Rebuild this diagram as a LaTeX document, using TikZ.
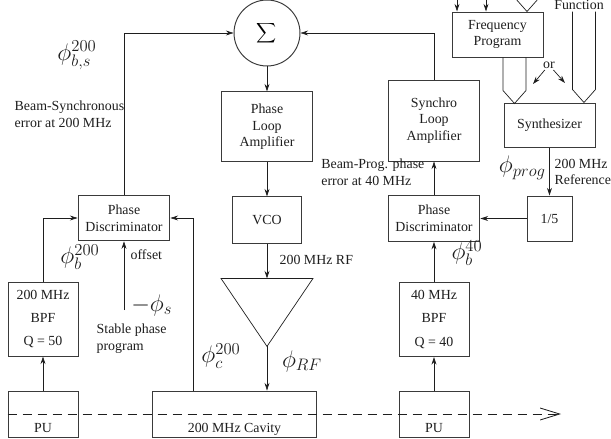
\documentclass[tikz,border=0pt]{standalone}
\usepackage{fontspec}
\setmainfont{Liberation Serif}
\usetikzlibrary{arrows.meta,positioning,calc}
\definecolor{Ink}{HTML}{1E1E1E}
\definecolor{Frame}{HTML}{3A3A3A}
\tikzset{
  block/.style={draw=Frame,line width=0.7pt,align=center,inner sep=2pt,
              minimum width=66.2pt,text=Ink},
  pubox/.style={block,minimum width=50.4pt,text height=26.7pt,text depth=0pt,
              inner ysep=3.2pt},
  flow/.style={-{Stealth[length=5.5pt,width=3.6pt]},line width=0.5pt,draw=Ink},
  wire/.style={line width=0.5pt,draw=Ink},
  beam/.style={-{Straight Barb[length=14pt,width=8.6pt]},dash pattern=on 6.5pt off 4.3pt,
              line width=0.6pt,draw=Ink},
  note/.style={align=left,text=Ink,inner sep=1pt},
  phase/.style={font=\LARGE,inner sep=0pt,text=Ink}
}

\begin{document}
\begin{tikzpicture}[x=0.72pt,y=-0.72pt]
  \clip (0,0) rectangle (611,439);
  % 200 MHz phase loop
  \node[draw=Frame,line width=0.7pt,circle,minimum size=47.5pt,inner sep=0pt] (sigma) at (267,33) {\large$\displaystyle\sum$};
  \node[block,minimum height=50.4pt,below=18pt of sigma] (loopamp) {Phase\\Loop\\Amplifier};
  \node[block,minimum width=49.7pt,minimum height=33.8pt,below=24.5pt of loopamp] (vco) {VCO};
  \coordinate[below=24.5pt of vco] (amp in);
  \coordinate (amp out) at ($(amp in)+(0,68)$);
  \draw[wire] (amp in) ++(-46,0) -- ++(92,0) -- (amp out) -- cycle;
  \node[block,minimum height=32.8pt] (pdL) at (124,218) {Phase\\Discriminator};
  \node[block,minimum width=50.4pt,minimum height=53.3pt] (bpfL) at (43,319) {200 MHz\\[4.6pt]BPF\\[4.6pt]Q = 50};
  % beam line
  \node[pubox] (puL) at (43,414) {PU};
  \node[pubox,minimum width=117.4pt] (cavity) at (234.5,414) {200 MHz Cavity};
  \node[pubox] (puR) at (434,414) {PU};
  % 40 MHz synchro loop
  \node[block,minimum width=50.4pt,minimum height=53.3pt] (bpfR) at (434,319.5) {40 MHz\\[4.6pt]BPF\\[4.6pt]Q = 40};
  \node[block,minimum height=32.8pt] (pdR) at (434,218.5) {Phase\\Discriminator};
  \node[block,minimum height=58.3pt] (synchro) at (434,120.5) {Synchro\\Loop\\Amplifier};
  \node[block,minimum width=32.4pt,minimum height=32.4pt] (div) at (549.5,218.5) {1/5};
  \node[block,minimum width=65.5pt,minimum height=31.7pt] (synth) at (549.5,125) {Synthesizer};
  \node[block,minimum width=65.5pt,minimum height=32.4pt] (freq) at (497.5,34.5) {Frequency\\Program};

  \coordinate (cavtap) at (193,391);
  \coordinate (stable) at (124,310);
  \coordinate (inA) at (457,-20);
  \coordinate (inB) at (486,-20);
  \coordinate (orL) at (533,84);
  \coordinate (orR) at (565,83);
  \coordinate (beamend) at (561,414);

  \draw[flow] (pdL) |- (sigma);
  \draw[flow] (synchro) |- (sigma);
  \draw[flow] (sigma) -- (loopamp);
  \draw[flow] (loopamp) -- (vco);
  \draw[flow] (vco) -- (amp in);
  \draw[flow] (amp out) -- (amp out |- cavity.north);
  \draw[flow] (cavtap) |- (pdL);
  \draw[flow] (bpfL) |- (pdL);
  \draw[flow] (puL) -- (bpfL);
  \draw[flow] (stable) -- (pdL);
  \draw[flow] (puR) -- (bpfR);
  \draw[flow] (bpfR) -- (pdR);
  \draw[flow] (pdR) -- (synchro);
  \draw[flow] (div) -- (pdR);
  \draw[flow] (synth) -- (div);
  \draw[flow] (inA) -- (inA |- freq.north);
  \draw[flow] (inB) -- (inB |- freq.north);
  \draw[beam] (puL.west) -- (beamend);
  % wide program paths
  \draw[wire] ($(freq.south)+(5.5,0)$) -- ++(0,33) -- ++(11.5,13) -- ++(11.5,-13) -- ++(0,-33);
  \draw[wire] ($(synth.north east)+(-23,-91)$) -- ++(0,78) -- ++(11.5,13) -- ++(11.5,-13) -- ++(0,-78);
  \draw[wire] ($(freq.north)+(18,-30)$) -- ++(0,17) -- ++(11.5,13) -- ++(11.5,-13) -- ++(0,-17);

  % labels
  \node[note,anchor=west] (bsync) at (13,114) {Beam-Synchronous\\error at 200 MHz};
  \node[phase] (phibs) at (77,55) {$\phi_{b,s}^{200}$};
  \node[phase] (phib200) at (80,257) {$\phi_b^{200}$};
  \node[note,anchor=west] (offs) at (129,255) {offset};
  \node[phase,anchor=west] (phis) at (131,305) {$-\phi_s$};
  \node[note,anchor=west] (stabletxt) at (95,339) {Stable phase\\program};
  \node[phase] (phic) at (221,356) {$\phi_c^{200}$};
  \node[phase] (phirf) at (302,361) {$\phi_{RF}$};
  \node[note,anchor=west] (rf) at (278,260) {200 MHz RF};
  \node[note,anchor=east] (bprog) at (426,172) {Beam-Prog. phase\\error at 40 MHz};
  \node[phase] (phib40) at (467,253) {$\phi_b^{40}$};
  \node[phase,anchor=east] (phiprog) at (546,168) {$\phi_{prog}$};
  \node[note,anchor=west] (ref) at (553,172) {200 MHz\\Reference};
  \node[note] (or) at (549,65) {or};
  \node[note,anchor=base] (func) at (579,10) {Function};
  \draw[flow] (or) -- (orL);
  \draw[flow] (or) -- (orR);
\end{tikzpicture}
\end{document}
